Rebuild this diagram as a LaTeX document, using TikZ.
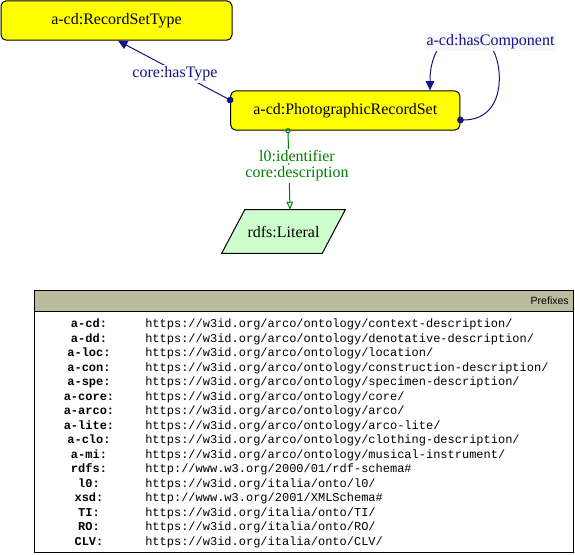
\documentclass[tikz,border=0pt]{standalone}
\usepackage{fontspec}
\setmainfont{Liberation Serif}
\newfontfamily\pfxmono{Liberation Mono}
\newfontfamily\pfxsans{Liberation Sans}
\usetikzlibrary{arrows.meta,calc}
\definecolor{edgenavy}{RGB}{20,20,130}
\definecolor{edgegreen}{RGB}{0,128,0}
\definecolor{boxyellow}{RGB}{255,255,0}
\definecolor{litgreen}{RGB}{204,255,204}
\definecolor{hdrfill}{RGB}{187,187,160}
\definecolor{lblbg}{RGB}{247,247,252}
\tikzset{
  classbox/.style={draw=black, line width=0.75pt, fill=boxyellow, rounded corners=4pt,
    inner sep=0pt, font=\fontsize{12pt}{14pt}\selectfont},
  objedge/.style={draw=edgenavy, line width=0.75pt, shorten <=-2.5pt,
    {Circle[length=5pt]}-{Triangle[length=7pt,width=6.5pt]}},
  dataedge/.style={draw=edgegreen, line width=0.75pt, shorten <=-2pt,
    {Circle[open,length=4pt]}-{Triangle[open,length=6pt,width=5pt]}},
  navylbl/.style={text=edgenavy, font=\fontsize{12pt}{14pt}\selectfont, inner sep=1pt},
  greenlbl/.style={text=edgegreen, font=\fontsize{12pt}{14pt}\selectfont, inner sep=1pt, fill=white},
  pfxkey/.style={font=\pfxmono\bfseries\fontsize{9pt}{10pt}\selectfont, inner sep=0pt, anchor=base},
  pfxurl/.style={font=\pfxmono\fontsize{9pt}{10pt}\selectfont, inner sep=0pt, anchor=base west}
}
\newcommand\pfxrow[3]{%
  \node[pfxkey] (k#1) at (89,{327.5+(#1-1)*14.53}) {#2};
  \node[pfxurl] (u#1) at (145,{327.5+(#1-1)*14.53}) {#3};
}
\begin{document}
\begin{tikzpicture}[x=0.75pt,y=-0.75pt]
\useasboundingbox (0,0) rectangle (575,554);

% class nodes
\node[classbox, minimum width=173.25pt, minimum height=29.6pt] (rst) at (116.5,20.5) {a-cd:RecordSetType};
\node[classbox, minimum width=172pt, minimum height=29.5pt] (prs) at (345.3,110.5) {a-cd:PhotographicRecordSet};

% literal
\node[inner sep=0pt, minimum width=75pt, minimum height=32.25pt, font=\fontsize{12pt}{14pt}\selectfont] (lit) at (283.5,231.5) {rdfs:Literal};
\draw[line width=0.75pt, fill=litgreen]
  ($(lit.north west)+(11.5,0)$) -- ($(lit.north east)+(11.5,0)$)
  -- ($(lit.south east)+(-11.5,0)$) -- ($(lit.south west)+(-11.5,0)$) -- cycle;
\node[inner sep=0pt, font=\fontsize{12pt}{14pt}\selectfont] at (lit) {rdfs:Literal};

% core:hasType
\coordinate (htS) at ($(prs.west)+(0,-10.5)$);
\coordinate (htE) at ($(rst.south)+(1.5,0)$);
\draw[objedge] (htS) -- (htE);
\node[navylbl, fill=white] (htl) at (175,74) {core:hasType};

% a-cd:hasComponent self loop
\coordinate (hcS) at ($(prs.east)+(0,9.5)$);
\coordinate (hcE) at ($(prs.north)+(84.7,0)$);
\draw[objedge] (hcS) .. controls (508,120) and (503,62) .. (491,47)
  -- (439,47) .. controls (431,60) and (430,72) .. (hcE);
\node[navylbl, fill=lblbg, inner ysep=1.5pt] (hcl) at (490.5,41.5) {a-cd:hasComponent};

% datatype properties
\coordinate (dpS) at ($(prs.south)+(-57.3,0)$);
\coordinate (dpE) at ($(lit.north)+(6.5,0)$);
\draw[dataedge] (dpS) -- (dpE);
\node[greenlbl] (dl1) at (297,156) {l0:identifier};
\node[greenlbl] (dl2) at (297,174) {core:description};

% prefixes table
\draw[line width=0.75pt, fill=hdrfill] (34,290) rectangle (573,311);
\draw[line width=0.75pt] (34,311) rectangle (573,552);
\node[font=\pfxsans\fontsize{7.9pt}{9pt}\selectfont, anchor=east, inner sep=0pt] (hdr) at (569,301) {Prefixes};

\pfxrow{1}{a-cd:}{https://w3id.org/arco/ontology/context-description/}
\pfxrow{2}{a-dd:}{https://w3id.org/arco/ontology/denotative-description/}
\pfxrow{3}{a-loc:}{https://w3id.org/arco/ontology/location/}
\pfxrow{4}{a-con:}{https://w3id.org/arco/ontology/construction-description/}
\pfxrow{5}{a-spe:}{https://w3id.org/arco/ontology/specimen-description/}
\pfxrow{6}{a-core:}{https://w3id.org/arco/ontology/core/}
\pfxrow{7}{a-arco:}{https://w3id.org/arco/ontology/arco/}
\pfxrow{8}{a-lite:}{https://w3id.org/arco/ontology/arco-lite/}
\pfxrow{9}{a-clo:}{https://w3id.org/arco/ontology/clothing-description/}
\pfxrow{10}{a-mi:}{https://w3id.org/arco/ontology/musical-instrument/}
\pfxrow{11}{rdfs:}{http://www.w3.org/2000/01/rdf-schema\#}
\pfxrow{12}{l0:}{https://w3id.org/italia/onto/l0/}
\pfxrow{13}{xsd:}{http://www.w3.org/2001/XMLSchema\#}
\pfxrow{14}{TI:}{https://w3id.org/italia/onto/TI/}
\pfxrow{15}{RO:}{https://w3id.org/italia/onto/RO/}
\pfxrow{16}{CLV:}{https://w3id.org/italia/onto/CLV/}
\end{tikzpicture}
\end{document}
